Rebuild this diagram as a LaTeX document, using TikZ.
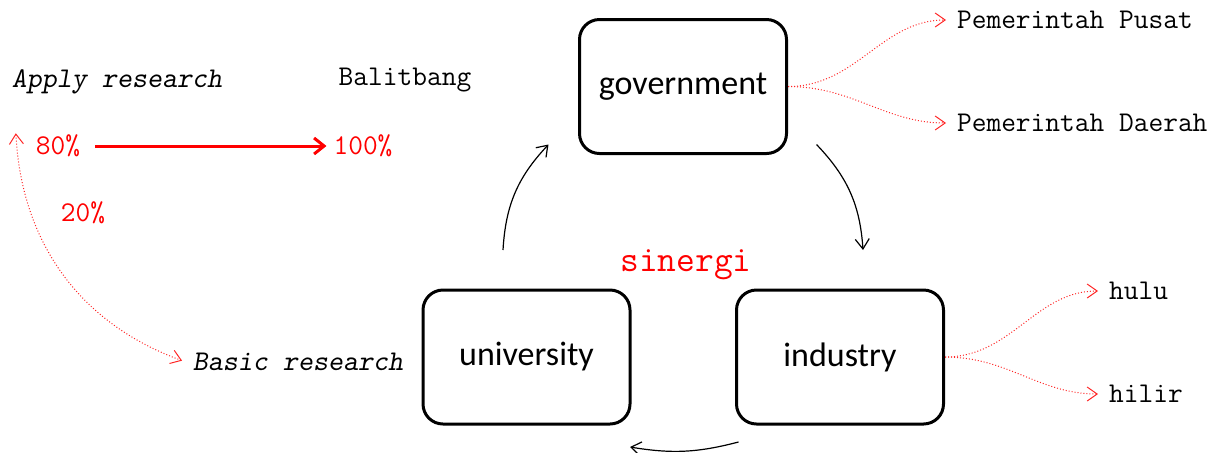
\documentclass[tikz,border=0pt]{standalone}
\usepackage{fontspec}
\usepackage{tikz}
\usetikzlibrary{positioning}
\usetikzlibrary{shapes,arrows,arrows.meta}
\newfontfamily\boxfont{Carlito}
\tikzset{%
  block/.style    = {draw, line width=1.5pt, rectangle, rounded corners=10pt,
    minimum height = 67pt, minimum width = 103.5pt, font=\boxfont\fontsize{17}{20}\selectfont},
  label/.style    = {font=\ttfamily\fontsize{14.3}{17}\selectfont}, % plain text
  slanted/.style  = {font=\ttfamily\slshape\fontsize{14.3}{17}\selectfont},
  pct/.style      = {label, text=red}, % percentages
  split/.style    = {red!85, densely dotted, line width=0.5pt, ->}, % branches
  cycle/.style    = {line width=0.6pt, ->} % synergy cycle
}

\begin{document}
\begin{tikzpicture}[x=0.5pt, y=-0.5pt, >={Straight Barb[length=5pt, width=7pt]}]
	\useasboundingbox (0,0) rectangle (1224,452);

	\draw node at (683,86.5) [block] (gov) {government};
	\draw node at (526.5,357) [block] (univ) {university};
	\draw node at (840,357) [block] (ind) {industry};

	\draw node at (686,265) [label, text=red, font=\ttfamily\fontsize{18.2}{21}\selectfont] (sinergi) {sinergi};

	\draw node at (117,82) [slanted] (apply) {Apply research};
	\draw node at (405,80) [label] (balitbang) {Balitbang};
	\draw node at (58,146) [pct] (pct80) {80\%};
	\draw node at (363,146) [pct] (pct100) {100\%};
	\draw node at (83,213) [pct] (pct20) {20\%};
	\draw node at (298,362) [slanted] (basic) {Basic research};

	\draw node at (950,20) [label, anchor=west] (pusat) {Pemerintah Pusat};
	\draw node at (950,123) [label, anchor=west] (daerah) {Pemerintah Daerah};
	\draw node at (1102,291) [label, anchor=west] (hulu) {hulu};
	\draw node at (1102,394) [label, anchor=west] (hilir) {hilir};

  % research shares
  \draw[->, red, line width=1.5pt, shorten <=4pt, >={Straight Barb[length=5pt, width=8pt]}] (pct80) -- (pct100);
  \draw[<->, red!85, densely dotted, line width=0.5pt, shorten >=2pt] ([xshift=5.5pt, yshift=-16pt]apply.south west) to[out=-87, in=160] (basic.west);

  % branches
  \draw[split, shorten >=2pt] (gov.east) to[out=0, in=180] (pusat.west);
  \draw[split, shorten >=2pt] (gov.east) to[out=0, in=180] (daerah.west);
  \draw[split, shorten >=2pt] (ind.east) to[out=0, in=180] (hulu.west);
  \draw[split, shorten >=2pt] (ind.east) to[out=0, in=180] (hilir.west);

  % cycle
  \draw[cycle] ([xshift=-11.75pt, yshift=19.25pt]univ.north) to[bend left=20] ([xshift=-14.75pt, yshift=5.25pt]gov.south west);
  \draw[cycle] ([xshift=14.25pt, yshift=5.25pt]gov.south east) to[bend left=20] ([xshift=11.5pt, yshift=19.25pt]ind.north);
  \draw[cycle] ([xshift=1.75pt, yshift=-8.25pt]ind.south west) to[bend left=12] ([xshift=-0.75pt, yshift=-10.75pt]univ.south east);

  \end{tikzpicture}
\end{document}
